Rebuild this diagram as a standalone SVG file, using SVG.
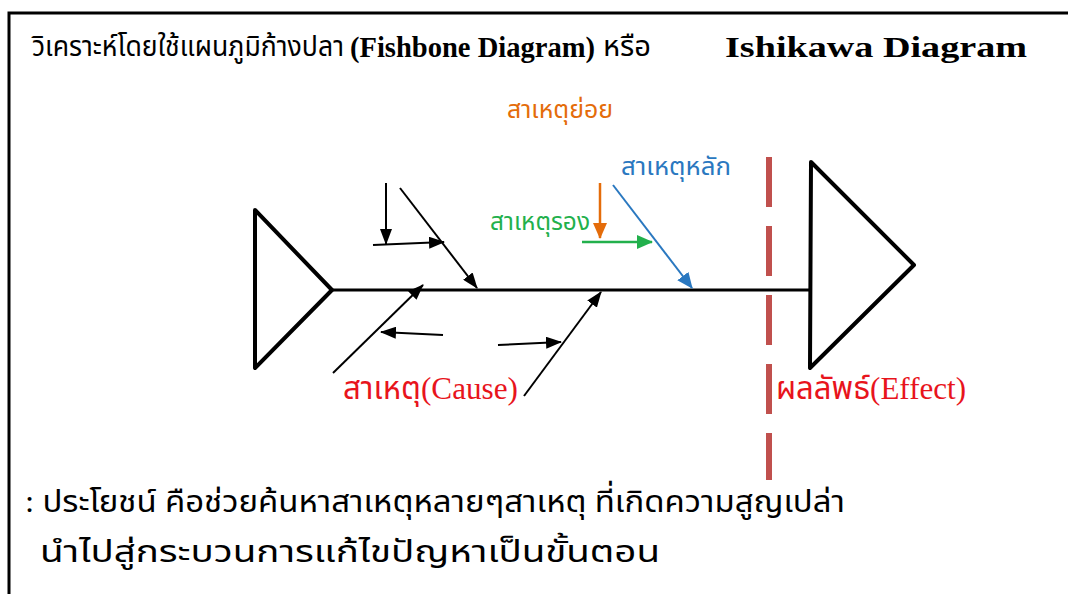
<svg xmlns="http://www.w3.org/2000/svg" width="1068" height="594" viewBox="0 0 1068 594">
<defs>
<style>
.th{font-family:"Liberation Serif","Noto Sans Thai","Noto Serif Thai","DejaVu Sans",serif}
.ths{font-family:"Noto Sans Thai","Noto Sans","DejaVu Sans",sans-serif}
.bone{stroke:#000;stroke-width:2;fill:none}
</style>
<marker id="ak" markerUnits="userSpaceOnUse" markerWidth="16" markerHeight="12" refX="15" refY="6" orient="auto"><path d="M0,0 L16,6 L0,12 Z" fill="#000"/></marker>
<marker id="ao" markerUnits="userSpaceOnUse" markerWidth="16" markerHeight="14" refX="15" refY="7" orient="auto"><path d="M0,0 L16,7 L0,14 Z" fill="#e46c0a"/></marker>
<marker id="ag" markerUnits="userSpaceOnUse" markerWidth="16" markerHeight="14" refX="15" refY="7" orient="auto"><path d="M0,0 L16,7 L0,14 Z" fill="#22b04c"/></marker>
<marker id="ab" markerUnits="userSpaceOnUse" markerWidth="16" markerHeight="14" refX="15" refY="7" orient="auto"><path d="M0,0 L16,7 L0,14 Z" fill="#2a78c0"/></marker>
</defs>
<rect width="1068" height="594" fill="#fff"/>
<path d="M9,594 V13 H1068" fill="none" stroke="#000" stroke-width="3"/>
<g id="title">
<text class="th" x="32" y="56" font-size="29" fill="#000" textLength="312" lengthAdjust="spacingAndGlyphs">วิเคราะห์โดยใช้แผนภูมิก้างปลา</text>
<text class="th" x="350" y="57" font-size="29" font-weight="bold" fill="#000" textLength="245" lengthAdjust="spacingAndGlyphs">(Fishbone Diagram)</text>
<text class="th" x="603" y="56" font-size="29" fill="#000" textLength="48" lengthAdjust="spacingAndGlyphs">หรือ</text>
<text class="th" x="725" y="57" font-size="29" font-weight="bold" fill="#000" textLength="302" lengthAdjust="spacingAndGlyphs">Ishikawa Diagram</text>
</g>
<g id="head-left"><polygon points="255,210 332,290 255,368" fill="#fff" stroke="#000" stroke-width="4" stroke-linejoin="round"/></g>
<g id="head-right"><polygon points="811,162 914,265 810,368" fill="#fff" stroke="#000" stroke-width="4" stroke-linejoin="round"/></g>
<g id="effect-line"><line x1="769" y1="157" x2="769" y2="480" stroke="#c0504d" stroke-width="6" stroke-dasharray="50,19"/></g>
<g id="connectors">
<line x1="332" y1="290" x2="810" y2="290" stroke="#000" stroke-width="3"/>
<line class="bone" x1="386" y1="183" x2="386" y2="244" marker-end="url(#ak)"/>
<line class="bone" x1="373" y1="245" x2="444" y2="242" marker-end="url(#ak)"/>
<line class="bone" x1="400" y1="188" x2="477" y2="288" marker-end="url(#ak)"/>
<line class="bone" x1="333" y1="373" x2="423" y2="285" marker-end="url(#ak)"/>
<line class="bone" x1="443" y1="335" x2="381" y2="332" marker-end="url(#ak)"/>
<line class="bone" x1="498" y1="345" x2="561" y2="342" marker-end="url(#ak)"/>
<line class="bone" x1="524" y1="396" x2="601" y2="292" marker-end="url(#ak)"/>
<line x1="600" y1="183" x2="600" y2="238" stroke="#e46c0a" stroke-width="2.5" marker-end="url(#ao)"/>
<line x1="582" y1="242" x2="652" y2="242" stroke="#22b04c" stroke-width="2.5" marker-end="url(#ag)"/>
<line x1="613" y1="185" x2="692" y2="288" stroke="#2a78c0" stroke-width="2" marker-end="url(#ab)"/>
</g>
<g id="label-sub"><text class="ths" x="507" y="118" font-size="24" fill="#e46c0a" textLength="106" lengthAdjust="spacingAndGlyphs">สาเหตุย่อย</text></g>
<g id="label-main"><text class="ths" x="621" y="175" font-size="24" fill="#2a78c0" textLength="110" lengthAdjust="spacingAndGlyphs">สาเหตุหลัก</text></g>
<g id="label-second"><text class="ths" x="490" y="230" font-size="24" fill="#22b04c" textLength="100" lengthAdjust="spacingAndGlyphs">สาเหตุรอง</text></g>
<g id="label-cause"><text class="th" x="343" y="399" font-size="32" fill="#e8141c" textLength="175" lengthAdjust="spacingAndGlyphs">สาเหตุ(Cause)</text></g>
<g id="label-effect"><text class="th" x="776" y="399" font-size="32" fill="#e8141c" textLength="190" lengthAdjust="spacingAndGlyphs">ผลลัพธ์(Effect)</text></g>
<g id="note">
<text class="th" x="25" y="512" font-size="31" fill="#000" textLength="820" lengthAdjust="spacingAndGlyphs">: ประโยชน์ คือช่วยค้นหาสาเหตุหลายๆสาเหตุ ที่เกิดความสูญเปล่า</text>
<text class="th" x="40" y="562" font-size="31" fill="#000" textLength="620" lengthAdjust="spacingAndGlyphs">นำไปสู่กระบวนการแก้ไขปัญหาเป็นขั้นตอน</text>
</g>
</svg>
